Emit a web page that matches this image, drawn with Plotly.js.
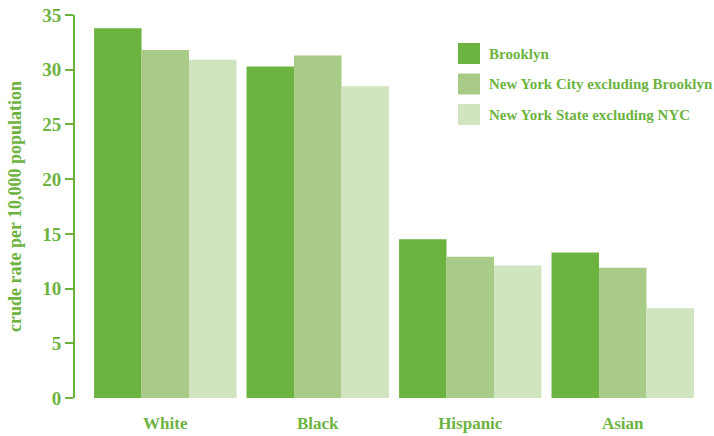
<!DOCTYPE html>
<html><head><meta charset="utf-8">
<script src="https://cdn.plot.ly/plotly-3.0.1.min.js"></script>
<style>html,body{margin:0;padding:0;background:#fff}</style>
</head><body>
<div id="chart" style="width:714px;height:436px"></div>
<script>
const categories = ["White", "Black", "Hispanic", "Asian"];
const seriesNames = ["Brooklyn", "New York City excluding Brooklyn", "New York State excluding NYC"];
const brooklyn = [33.8, 30.3, 14.5, 13.3];
const nycExBrooklyn = [31.8, 31.3, 12.9, 11.9];
const nysExNyc = [30.9, 28.5, 12.1, 8.2];
const yTickVals = [0, 5, 10, 15, 20, 25, 30, 35];

const colors = ["#6db33f", "#a8cc88", "#d0e4c0"];
const textColor = "#6db33f";
const serif = "'Liberation Serif', 'DejaVu Serif', serif";

const W = 714, H = 436;
const M = {l: 75, r: 15, t: 15, b: 38};
const pw = W - M.l - M.r, ph = H - M.t - M.b;
const px2x = p => (p - M.l) / pw;
const px2y = p => (H - M.b - p) / ph;

const seriesValues = [brooklyn, nycExBrooklyn, nysExNyc];
const data = seriesValues.map((vals, i) => ({
  type: "bar",
  name: seriesNames[i],
  x: categories,
  y: vals,
  marker: {color: colors[i], line: {width: 0}},
  hoverinfo: "skip",
  showlegend: false
}));

// custom legend (large square swatches)
const shapes = [], annotations = [];
seriesNames.forEach((name, i) => {
  const top = 43 + i * 30.5;
  shapes.push({
    type: "rect", xref: "paper", yref: "paper",
    x0: px2x(458), x1: px2x(480), y0: px2y(top + 21), y1: px2y(top),
    fillcolor: colors[i], line: {width: 0}
  });
  annotations.push({
    xref: "paper", yref: "paper", x: px2x(487), y: px2y(top + 10.5),
    xanchor: "left", yanchor: "middle", showarrow: false, text: name,
    font: {family: serif, size: 15, color: textColor, weight: "bold"}
  });
});

const layout = {
  width: W, height: H,
  margin: M,
  paper_bgcolor: "#fff", plot_bgcolor: "#fff",
  barmode: "group", bargap: 0.066, bargroupgap: 0,
  showlegend: false,
  shapes: shapes, annotations: annotations,
  xaxis: {
    range: [-0.592, 3.5],
    showline: false, showgrid: false, zeroline: false,
    ticks: "outside", ticklen: 10, tickcolor: "rgba(0,0,0,0)",
    tickfont: {family: serif, size: 17, color: textColor, weight: "bold"},
    fixedrange: true
  },
  yaxis: {
    range: [0, 35],
    tickvals: yTickVals,
    showline: true, linecolor: textColor, linewidth: 2,
    ticks: "outside", ticklen: 8, tickcolor: textColor, tickwidth: 2,
    showgrid: false, zeroline: false,
    tickfont: {family: serif, size: 19, color: textColor, weight: "bold"},
    title: {text: "crude rate per 10,000 population", font: {family: serif, size: 18, color: textColor, weight: "bold"}, standoff: 16},
    fixedrange: true
  }
};

Plotly.newPlot("chart", data, layout, {displayModeBar: false, staticPlot: true});
</script>
</body></html>
